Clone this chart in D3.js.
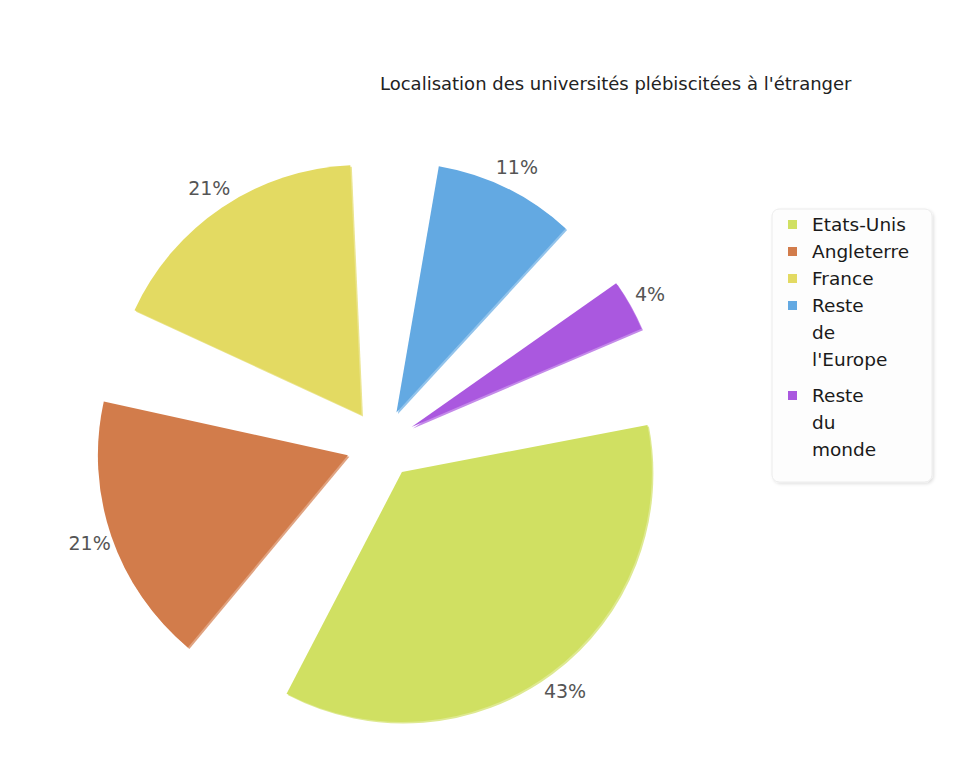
<!DOCTYPE html>
<html>
<head>
<meta charset="utf-8">
<script src="https://cdn.jsdelivr.net/npm/d3@7"></script>
<style>
body{margin:0;background:#fff;}
text{font-family:'DejaVu Sans',sans-serif;}
</style>
</head>
<body>
<div class="canvas"></div>
<script>
// data
const categories = ['Etats-Unis','Angleterre','France',"Reste de l'Europe",'Reste du monde'];
const shares = [43,21,21,11,4];
const colors = ['#d0e062','#d27c4b','#e3da62','#63a9e2','#aa58df'];
const title = "Localisation des universités plébiscitées à l'étranger";

const width = 958, height = 764;
const svg = d3.select('.canvas')
.append('svg')
    .attr('width', width)
    .attr('height', height);

// shadow for legend box
const defs = svg.append('defs');
defs.append('filter').attr('id','shadow')
    .attr('x','-10%').attr('y','-10%').attr('width','130%').attr('height','130%')
    .append('feDropShadow')
    .attr('dx',1.5).attr('dy',1.5).attr('stdDeviation',1.5)
    .attr('flood-color','#000').attr('flood-opacity',0.12);

//title
svg.append('text')
    .attr('x',380)
    .attr('y',90)
    .attr('font-size',18)
    .attr('fill','#222')
    .text(title);

//pie
const centre = {x:381, y:444};
const radius = 250;
const explode = 35;
const start = 73*Math.PI/180;

const pie = d3.pie()
    .sort(null)
    .value(d=>d)
    .startAngle(start)
    .endAngle(start + 2*Math.PI)
    .padAngle(0.215);

const arc = d3.arc().innerRadius(0).outerRadius(radius);
const labelArc = d3.arc().innerRadius(radius+23).outerRadius(radius+23);

const graph = svg.append('g')
    .attr('transform',`translate(${centre.x},${centre.y})`);

const slices = pie(shares);
const offset = d=>{
    const mid = (d.startAngle + d.endAngle)/2;
    return [Math.sin(mid)*explode, -Math.cos(mid)*explode];
};

const g = graph.selectAll('g.slice')
    .data(slices)
    .enter()
    .append('g')
    .attr('class','slice')
    .attr('transform',d=>`translate(${offset(d)})`);

// light rim (fake depth)
g.append('path')
    .attr('d',arc)
    .attr('transform','translate(1.5,1.5)')
    .attr('fill',(d,i)=>d3.interpolateRgb(colors[i],'#fff')(0.3));

g.append('path')
    .attr('d',arc)
    .attr('fill',(d,i)=>colors[i]);

g.append('text')
    .attr('transform',d=>`translate(${labelArc.centroid(d)})`)
    .attr('text-anchor','middle')
    .attr('dy','0.35em')
    .attr('font-size',19)
    .attr('fill','#555')
    .text(d=>d.data + '%');

//legend
const legend = svg.append('g').attr('transform','translate(772,209)');
legend.append('rect')
    .attr('width',160)
    .attr('height',273)
    .attr('rx',7)
    .attr('fill','#fdfdfd')
    .attr('stroke','#ececec')
    .attr('filter','url(#shadow)');

const lineH = 27;
let yPos = 22;
categories.forEach((c,i)=>{
    const lines = c.split(' ');
    legend.append('rect')
        .attr('x',16)
        .attr('y',yPos-11)
        .attr('width',9)
        .attr('height',9)
        .attr('fill',colors[i]);
    const t = legend.append('text')
        .attr('x',40)
        .attr('y',yPos)
        .attr('font-size',18.5)
        .attr('fill','#1a1a1a');
    lines.forEach((l,j)=>{
        t.append('tspan')
            .attr('x',40)
            .attr('dy', j===0 ? 0 : lineH)
            .text(l);
    });
    yPos += lines.length*lineH + (lines.length>1 ? 9 : 0);
});
</script>
</body>
</html>
